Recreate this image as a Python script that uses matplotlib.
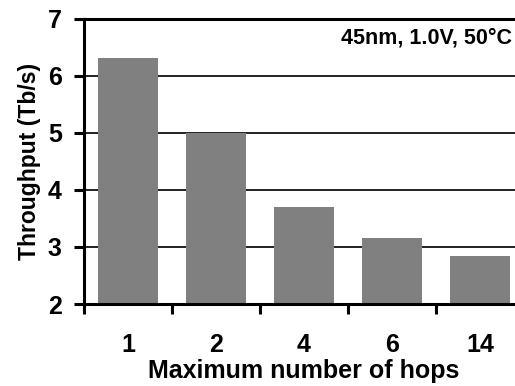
import matplotlib
matplotlib.use("Agg")
import matplotlib.pyplot as plt

hops = ["1", "2", "4", "6", "14"]
throughput = [6.31, 5.0, 3.70, 3.15, 2.85]
y_ticks = [2, 3, 4, 5, 6, 7]

plt.rcParams["font.family"] = ["Liberation Sans", "DejaVu Sans"]
plt.rcParams["font.weight"] = "bold"

fig = plt.figure(figsize=(5.15, 3.86), dpi=100)
ax = fig.add_axes([0.1631, 0.2124, 0.8544, 0.7392])

x = list(range(len(hops)))
ax.bar(x, throughput, width=0.68, color="#808080", bottom=0, zorder=3)

ax.set_xlim(-0.5, len(hops) - 0.5)
ax.set_ylim(2, 7)
ax.set_yticks(y_ticks)
ax.set_yticklabels([str(v) for v in y_ticks])

# x ticks sit on category boundaries, labels under category centres
ax.set_xticks([i - 0.5 for i in range(len(hops) + 1)])
ax.set_xticklabels([])
ax.set_xticks(x, minor=True)
ax.set_xticklabels(hops, minor=True)
ax.tick_params(axis="x", which="minor", length=0, pad=21, labelsize=18)
ax.tick_params(axis="x", which="major", direction="out", length=7, width=2.2)
ax.tick_params(axis="y", direction="out", length=7, width=2.2, pad=9, labelsize=18)

ax.grid(axis="y", color="#222222", linewidth=1.4, zorder=0)
for side in ["left", "bottom", "top", "right"]:
    ax.spines[side].set_linewidth(2.2)
    ax.spines[side].set_color("black")
    ax.spines[side].set_zorder(4)

ax.set_xlabel("Maximum number of hops", fontsize=18, fontweight="bold", labelpad=1)
ax.set_ylabel("Throughput (Tb/s)", fontsize=16.5, fontweight="bold", labelpad=5)

fig.text(0.994, 0.888, "45nm, 1.0V, 50°C", ha="right", va="baseline",
         fontsize=15.5, fontweight="bold")

fig.savefig("out.png", dpi=100)
